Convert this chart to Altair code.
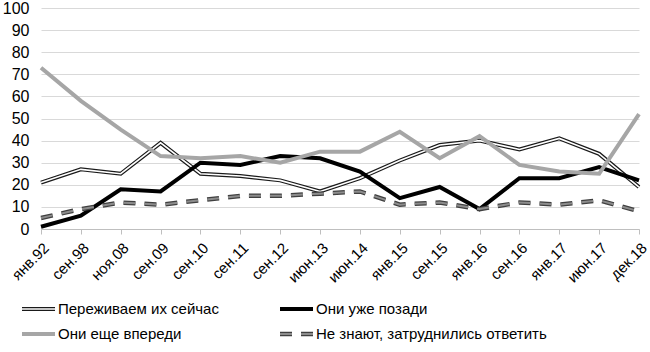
import altair as alt
import pandas as pd

categories = ["янв.92", "сен.98", "ноя.08", "сен.09", "сен.10", "сен.11", "сен.12", "июн.13",
              "июн.14", "янв.15", "сен.15", "янв.16", "сен.16", "янв.17", "июн.17", "дек.18"]
names = ["Переживаем их сейчас", "Они уже позади", "Они еще впереди",
         "Не знают, затруднились ответить"]
now_vals = [21, 27, 25, 39, 25, 24, 22, 17, 23, 31, 38, 40, 36, 41, 34, 19]
past_vals = [1, 6, 18, 17, 30, 29, 33, 32, 26, 14, 19, 9, 23, 23, 28, 22]
ahead_vals = [73, 58, 45, 33, 32, 33, 30, 35, 35, 44, 32, 42, 29, 26, 25, 52]
unknown_vals = [5, 9, 12, 11, 13, 15, 15, 16, 17, 11, 12, 9, 12, 11, 13, 8]
y_ticks = list(range(0, 101, 10))

rows = []
for name, vals in zip(names, [now_vals, past_vals, ahead_vals, unknown_vals]):
    for c, v in zip(categories, vals):
        rows.append({"period": c, "series": name, "value": v})
df = pd.DataFrame(rows)

FONT = "Liberation Sans"
W, H = 598, 221
GRAY = "#a6a6a6"
DASH = [12, 9]

x_enc = alt.X("period:N", sort=categories,
              scale=alt.Scale(type="point", padding=0),
              axis=alt.Axis(title=None, labelAngle=315, grid=False, domainColor="#bfbfbf",
                            tickColor="#bfbfbf", tickSize=5, labelPadding=6,
                            labelFontSize=15, labelFont=FONT, labelColor="#000000"))
y_enc = alt.Y("value:Q", scale=alt.Scale(domain=[0, 100], nice=False),
              axis=alt.Axis(title=None, values=y_ticks, grid=True, gridColor="#d9d9d9",
                            domain=False, ticks=False, labelPadding=12,
                            labelFontSize=16, labelFont=FONT, labelColor="#000000"))

base = alt.Chart(df)


def line(name, **kw):
    return base.transform_filter(alt.datum.series == name).mark_line(**kw).encode(x=x_enc, y=y_enc)


layers = [
    line(names[0], color="#1a1a1a", strokeWidth=4),
    line(names[0], color="#ffffff", strokeWidth=1.6),
    line(names[1], color="#000000", strokeWidth=4),
    line(names[2], color=GRAY, strokeWidth=4),
    line(names[3], color="#404040", strokeWidth=4.5, strokeDash=DASH),
    line(names[3], color="#8c8c8c", strokeWidth=2, strokeDash=DASH),
]

# legend (manual, to reproduce the line styles)
leg_pos = [(-19, 301), (239, 301), (-19, 326), (239, 326)]
leg_styles = [
    [dict(color="#1a1a1a", strokeWidth=4), dict(color="#ffffff", strokeWidth=1.6)],
    [dict(color="#000000", strokeWidth=4)],
    [dict(color=GRAY, strokeWidth=4)],
    [dict(color="#404040", strokeWidth=4.5, strokeDash=DASH),
     dict(color="#8c8c8c", strokeWidth=2, strokeDash=DASH)],
]
for name, (lx, ly), styles in zip(names, leg_pos, leg_styles):
    ldf = pd.DataFrame({"label": [name]})
    for st in styles:
        layers.append(alt.Chart(ldf).mark_rule(**st).encode(
            x=alt.value(lx), x2=alt.value(lx + 33), y=alt.value(ly)))
    layers.append(alt.Chart(ldf).mark_text(align="left", baseline="middle", font=FONT,
                                           fontSize=15, color="#000000").encode(
        x=alt.value(lx + 36), y=alt.value(ly), text="label:N"))

chart = alt.layer(*layers).properties(
    width=W, height=H,
    autosize=alt.AutoSizeParams(type="none"),
    padding={"left": 41, "top": 8, "right": 11, "bottom": 123},
    background="#ffffff",
).configure_view(stroke=None)

chart.save("out.html", embed_options={"renderer": "svg", "actions": False})
